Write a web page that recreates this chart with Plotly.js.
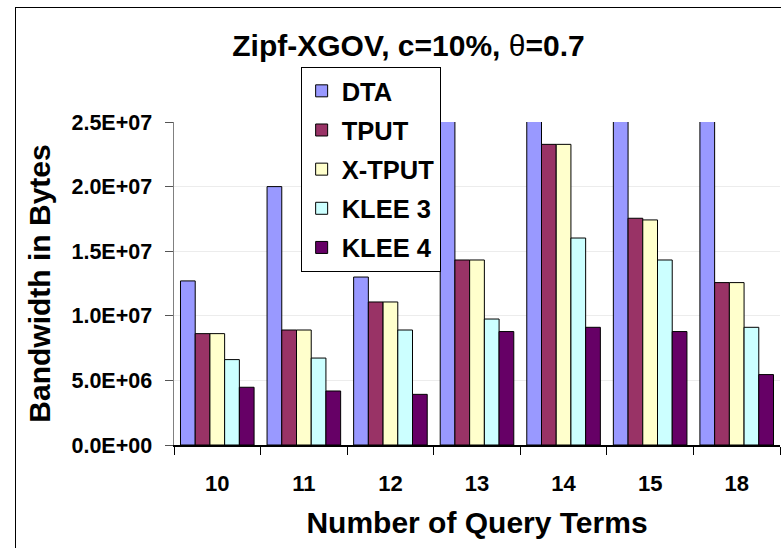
<!DOCTYPE html>
<html>
<head>
<meta charset="utf-8">
<script src="https://cdn.plot.ly/plotly-3.0.1.min.js"></script>
<style>
  html, body { margin: 0; padding: 0; background: #fff; }
  #wrap { position: relative; width: 781px; height: 548px; overflow: hidden; }
  #chart { position: absolute; left: 0; top: 0; width: 781px; height: 548px; }
  #frame { position: absolute; left: 15px; top: 7px; width: 900px; height: 700px;
           border-left: 1.5px solid #000; border-top: 1.5px solid #000; pointer-events: none; }
</style>
</head>
<body>
<div id="wrap"><div id="chart"></div><div id="frame"></div></div>
<script>
// Categories (number of query terms)
const categories = ["10", "11", "12", "13", "14", "15", "18"];

// Bandwidth in bytes per method (DTA for 13..18 runs off the top of the axis; estimated)
const dta    = [1.27e7, 2.00e7, 1.30e7, 2.80e7, 4.00e7, 3.20e7, 2.70e7];
const tput   = [8.62e6, 8.90e6, 1.107e7, 1.432e7, 2.327e7, 1.755e7, 1.257e7];
const xtput  = [8.62e6, 8.90e6, 1.107e7, 1.432e7, 2.327e7, 1.742e7, 1.257e7];
const klee3  = [6.61e6, 6.73e6, 8.90e6, 9.75e6, 1.602e7, 1.432e7, 9.11e6];
const klee4  = [4.47e6, 4.18e6, 3.92e6, 8.78e6, 9.11e6, 8.78e6, 5.45e6];

const seriesNames = ["DTA", "TPUT", "X-TPUT", "KLEE 3", "KLEE 4"];
const seriesColors = ["#9999FF", "#993366", "#FFFFCC", "#CCFFFF", "#660066"];
const seriesValues = [dta, tput, xtput, klee3, klee4];

// Y tick labels
const yTickVals = [0, 5e6, 1e7, 1.5e7, 2e7, 2.5e7];
const yTickText = ["0.0E+00", "5.0E+06", "1.0E+07", "1.5E+07", "2.0E+07", "2.5E+07"];
const innerGridVals = [5e6, 1e7, 1.5e7, 2e7];

const FONT = "Liberation Sans, Arial, sans-serif";

const traces = seriesNames.map((name, i) => ({
  type: "bar",
  name: name,
  x: categories,
  y: seriesValues[i],
  legendgroup: "g" + i,
  marker: { color: seriesColors[i], line: { color: "#000", width: 1 } },
  hoverinfo: "x+y+name"
}));

const layout = {
  width: 781,
  height: 548,
  paper_bgcolor: "#fff",
  plot_bgcolor: "#fff",
  margin: { l: 174, r: 1, t: 122, b: 103, pad: 0 },
  barmode: "group",
  bargap: 0.15,
  bargroupgap: 0,
  font: { family: FONT, color: "#000" },
  title: {
    text: "<b>Zipf-XGOV, c=10%, </b>θ<b>=0.7</b>",
    font: { family: FONT, size: 30, color: "#000" },
    xref: "container", x: 0.523, xanchor: "center",
    yref: "container", y: 1 - 45 / 548, yanchor: "middle"
  },
  xaxis: {
    type: "category",
    tickson: "boundaries",
    ticks: "outside",
    ticklen: 8,
    tickcolor: "#000",
    tickwidth: 1,
    showline: true,
    linecolor: "#000",
    linewidth: 2,
    showgrid: false,
    ticklabelstandoff: 18,
    tickfont: { family: FONT, size: 22, color: "#000", weight: "bold" },
    title: {
      text: "<b>Number of Query Terms</b>",
      font: { family: FONT, size: 30, color: "#000" },
      standoff: 17
    }
  },
  yaxis: {
    range: [0, 2.5e7],
    tickvals: yTickVals,
    ticktext: yTickText,
    ticks: "outside",
    ticklen: 8,
    tickcolor: "#555",
    showline: true,
    linecolor: "#808080",
    linewidth: 1.5,
    showgrid: true,
    gridcolor: "#ececec",
    gridwidth: 1,
    zeroline: false,
    ticklabelstandoff: 8,
    tickfont: { family: FONT, size: 21.5, color: "#000", weight: "bold" },
    title: {
      text: "<b>Bandwidth in Bytes</b>",
      font: { family: FONT, size: 30, color: "#000" },
      standoff: 12
    }
  },
  yaxis2: {
    overlaying: "y",
    anchor: "x",
    side: "left",
    range: [0, 2.5e7],
    tickvals: innerGridVals,
    showticklabels: false,
    ticks: "",
    showline: false,
    showgrid: true,
    gridcolor: "#1a1a1a",
    gridwidth: 1,
    zeroline: false
  },
  showlegend: true,
  legend: {
    x: 0.209, xanchor: "left",
    y: 1.171, yanchor: "top",
    bgcolor: "#fff",
    bordercolor: "#000",
    borderwidth: 1,
    tracegroupgap: 3,
    traceorder: "grouped",
    font: { family: FONT, size: 25.5, color: "#000", weight: "bold" }
  }
};

Plotly.newPlot("chart", traces, layout, { displayModeBar: false, staticPlot: true });
</script>
</body>
</html>
